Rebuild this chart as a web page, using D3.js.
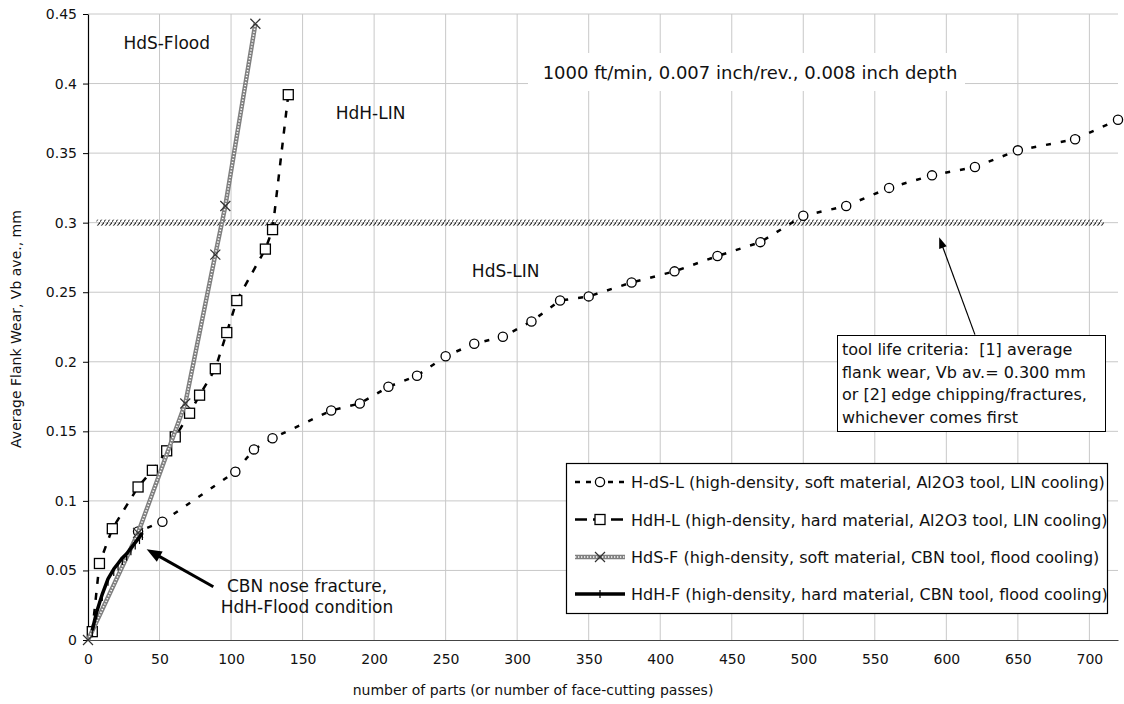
<!DOCTYPE html>
<html>
<head>
<meta charset="utf-8">
<script src="https://cdn.jsdelivr.net/npm/d3@7"></script>
<style>
  body { margin: 0; background: #fff; }
  svg text { font-family: 'DejaVu Sans', sans-serif; fill: #111; }
</style>
</head>
<body>
<svg id="chart"></svg>
<script>
// H-dS-L : high-density, soft material, Al2O3 tool, LIN cooling
const hdslParts = [3, 35, 52, 103, 116, 129, 170, 190, 210, 230, 250, 270, 290, 310, 330, 350, 380, 410, 440, 470, 500, 530, 560, 590, 620, 650, 690, 720];
const hdslWear = [0.006, 0.078, 0.085, 0.121, 0.137, 0.145, 0.165, 0.170, 0.182, 0.190, 0.204, 0.213, 0.218, 0.229, 0.244, 0.247, 0.257, 0.265, 0.276, 0.286, 0.305, 0.312, 0.325, 0.334, 0.340, 0.352, 0.360, 0.374];

// HdH-L : high-density, hard material, Al2O3 tool, LIN cooling
const hdhlParts = [3, 8, 17, 35, 45, 55, 61, 71, 78, 89, 97, 104, 124, 129, 140];
const hdhlWear = [0.006, 0.055, 0.080, 0.110, 0.122, 0.136, 0.146, 0.163, 0.176, 0.195, 0.221, 0.244, 0.281, 0.295, 0.392];

// HdS-F : high-density, soft material, CBN tool, flood cooling
const hdsfParts = [0, 35, 68, 89, 96, 117];
const hdsfWear = [0, 0.077, 0.170, 0.277, 0.312, 0.443];

// HdH-F : high-density, hard material, CBN tool, flood cooling (nose fracture)
const hdhfParts = [3, 6, 10, 14, 18, 21, 24, 27, 30, 33, 36, 38];
const hdhfWear = [0.007, 0.020, 0.033, 0.044, 0.051, 0.055, 0.059, 0.062, 0.066, 0.070, 0.074, 0.077];

// tool life criterion (Vb av. = 0.300 mm)
const criterionWear = 0.3;
const criterionParts = [6, 710];

// axes
const xTicks = [0, 50, 100, 150, 200, 250, 300, 350, 400, 450, 500, 550, 600, 650, 700];
const yTicks = [0, 0.05, 0.1, 0.15, 0.2, 0.25, 0.3, 0.35, 0.4, 0.45];
const yTickLabels = ['0', '0.05', '0.1', '0.15', '0.2', '0.25', '0.3', '0.35', '0.4', '0.45'];

const legendLabels = [
  'H-dS-L (high-density, soft material, Al2O3 tool, LIN cooling)',
  'HdH-L (high-density, hard material, Al2O3 tool, LIN cooling)',
  'HdS-F (high-density, soft material, CBN tool, flood cooling)',
  'HdH-F (high-density, hard material, CBN tool, flood cooling)'
];

// settings
const config = {
  width: 1124,
  height: 704,
  plot: { left: 88, right: 1118, top: 14, bottom: 640 },
  grid: '#c8c8c8',
  legend: { x: 566, y: 463, width: 541, height: 150, rows: [482, 519.5, 557, 594] },
};

const svg = d3.select('#chart')
  .attr('width', config.width)
  .attr('height', config.height);

svg.append('rect')
  .attr('width', config.width)
  .attr('height', config.height)
  .attr('fill', '#fff');

const x = d3.scaleLinear().domain([0, 720]).range([config.plot.left, config.plot.right]);
const y = d3.scaleLinear().domain([0, 0.45]).range([config.plot.bottom, config.plot.top]);

const defs = svg.append('defs');

// hatch pattern for the criterion band
const hatch = defs.append('pattern')
  .attr('id', 'hatch')
  .attr('patternUnits', 'userSpaceOnUse')
  .attr('width', 4)
  .attr('height', 6);
hatch.append('path')
  .attr('d', 'M-1,7 L5,-1')
  .attr('stroke', '#333')
  .attr('stroke-width', 1.1);

// gridlines
const grid = svg.append('g');
grid.selectAll('.vgrid').data(xTicks.filter(d => d > 0)).enter().append('line')
  .attr('x1', d => x(d)).attr('x2', d => x(d))
  .attr('y1', y(0)).attr('y2', y(0.45))
  .attr('stroke', config.grid).attr('stroke-width', 1);
grid.selectAll('.hgrid').data(yTicks.filter(d => d > 0)).enter().append('line')
  .attr('x1', x(0)).attr('x2', x(720))
  .attr('y1', d => y(d)).attr('y2', d => y(d))
  .attr('stroke', config.grid).attr('stroke-width', 1);

// bottom axis
const xAxis = d3.axisBottom(x)
  .tickValues(xTicks)
  .tickSize(0)
  .tickPadding(14)
  .tickFormat(d3.format('d'));
const gx = svg.append('g')
  .attr('transform', `translate(0, ${y(0)})`)
  .call(xAxis);
gx.select('.domain').attr('stroke', '#444');
gx.selectAll('text').attr('font-size', 14).attr('fill', '#111').attr('font-family', 'DejaVu Sans');

// left axis
const yAxis = d3.axisLeft(y)
  .tickValues(yTicks)
  .tickSize(5)
  .tickSizeOuter(0)
  .tickPadding(6)
  .tickFormat((d, i) => yTickLabels[i]);
const gy = svg.append('g')
  .attr('transform', `translate(${x(0)}, 0)`)
  .call(yAxis);
gy.select('.domain').attr('stroke', '#000').attr('stroke-width', 1.2);
gy.selectAll('line').attr('stroke', '#000');
gy.selectAll('text').attr('font-size', 14).attr('fill', '#111').attr('font-family', 'DejaVu Sans');

// axis titles
svg.append('text')
  .attr('transform', `translate(16, ${(y(0) + y(0.45)) / 2 + 2}) rotate(-90)`)
  .attr('text-anchor', 'middle')
  .attr('dy', '0.35em')
  .attr('font-size', 14)
  .text('Average Flank Wear, Vb ave., mm');

svg.append('text')
  .attr('x', 533)
  .attr('y', 695)
  .attr('text-anchor', 'middle')
  .attr('font-size', 14)
  .text('number of parts (or number of face-cutting passes)');

// header text with white background
const header = svg.append('g');
header.append('rect')
  .attr('x', 528).attr('y', 53).attr('width', 437).attr('height', 38)
  .attr('fill', '#fff');
header.append('text')
  .attr('x', 750).attr('y', 79)
  .attr('text-anchor', 'middle')
  .attr('font-size', 18)
  .text('1000 ft/min, 0.007 inch/rev., 0.008 inch depth');

// criterion band
svg.append('rect')
  .attr('x', x(criterionParts[0]))
  .attr('width', x(criterionParts[1]) - x(criterionParts[0]))
  .attr('y', y(criterionWear) - 3)
  .attr('height', 6)
  .attr('fill', 'url(#hatch)');

const zip = (xs, ys) => xs.map((d, i) => [d, ys[i]]);
const line = d3.line().x(d => x(d[0])).y(d => y(d[1]));

const hdsl = zip(hdslParts, hdslWear);
const hdhl = zip(hdhlParts, hdhlWear);
const hdsf = zip(hdsfParts, hdsfWear);
const hdhf = zip(hdhfParts, hdhfWear);

// line styles, take a path generator so the legend can reuse them
function drawDashed(g, d, dash) {
  g.append('path').attr('d', d)
    .attr('fill', 'none').attr('stroke', '#000')
    .attr('stroke-width', 2.5).attr('stroke-dasharray', dash);
}
function drawRope(g, d) {
  g.append('path').attr('d', d)
    .attr('fill', 'none').attr('stroke', '#808080').attr('stroke-width', 4.5);
  g.append('path').attr('d', d)
    .attr('fill', 'none').attr('stroke', '#fff').attr('stroke-width', 1.6)
    .attr('stroke-dasharray', '1.3,1.7');
}
function drawSolid(g, d) {
  g.append('path').attr('d', d)
    .attr('fill', 'none').attr('stroke', '#000').attr('stroke-width', 3.5)
    .attr('stroke-linejoin', 'round');
}

// marker shapes, drawn at pixel position
function circleMark(g, px, py) {
  g.append('circle').attr('cx', px).attr('cy', py).attr('r', 4.6)
    .attr('fill', '#fff').attr('stroke', '#000').attr('stroke-width', 1.3);
}
function squareMark(g, px, py) {
  g.append('rect').attr('x', px - 5).attr('y', py - 5).attr('width', 10).attr('height', 10)
    .attr('fill', '#fff').attr('stroke', '#000').attr('stroke-width', 1.3);
}
function crossMark(g, px, py) {
  g.append('path').attr('d', `M${px - 5},${py - 5}L${px + 5},${py + 5}M${px - 5},${py + 5}L${px + 5},${py - 5}`)
    .attr('stroke', '#333').attr('stroke-width', 1.2).attr('fill', 'none');
}
function tickMark(g, px, py) {
  g.append('line').attr('x1', px).attr('x2', px).attr('y1', py - 1).attr('y2', py + 7)
    .attr('stroke', '#000').attr('stroke-width', 1.2);
}
function plusMark(g, px, py) {
  g.append('line').attr('x1', px).attr('x2', px).attr('y1', py - 4).attr('y2', py + 4)
    .attr('stroke', '#000').attr('stroke-width', 1.2);
}

const series = [
  { pts: hdsl, draw: (g, d) => drawDashed(g, d, '5,10'), legendDraw: (g, d) => drawDashed(g, d, '5,6'), mark: circleMark, legendMark: circleMark },
  { pts: hdhl, draw: (g, d) => drawDashed(g, d, '7,9'), legendDraw: (g, d) => drawDashed(g, d, '12,6'), mark: squareMark, legendMark: squareMark },
  { pts: hdsf, draw: drawRope, legendDraw: drawRope, mark: crossMark, legendMark: crossMark },
  { pts: hdhf, draw: drawSolid, legendDraw: drawSolid, mark: tickMark, legendMark: plusMark },
];

const plotG = svg.append('g');
series.forEach(s => {
  const g = plotG.append('g');
  s.draw(g, line(s.pts));
  s.pts.forEach(d => s.mark(g, x(d[0]), y(d[1])));
});

// text labels inside plot
const labels = [
  { text: 'HdS-Flood', at: [55, 0.4245] },
  { text: 'HdH-LIN', at: [197.5, 0.3745] },
  { text: 'HdS-LIN', at: [292, 0.261] },
];
labels.forEach(l => {
  svg.append('text')
    .attr('x', x(l.at[0])).attr('y', y(l.at[1]))
    .attr('text-anchor', 'middle')
    .attr('font-size', 17)
    .text(l.text);
});

// arrows
function arrow(from, to, width, headLen, headW) {
  const x1 = x(from[0]), y1 = y(from[1]), x2 = x(to[0]), y2 = y(to[1]);
  const a = Math.atan2(y2 - y1, x2 - x1);
  const bx = x2 - headLen * Math.cos(a), by = y2 - headLen * Math.sin(a);
  const nx = -Math.sin(a) * headW / 2, ny = Math.cos(a) * headW / 2;
  svg.append('line').attr('x1', x1).attr('y1', y1).attr('x2', bx + Math.cos(a) * 2).attr('y2', by + Math.sin(a) * 2)
    .attr('stroke', '#000').attr('stroke-width', width);
  svg.append('path')
    .attr('d', `M${x2},${y2}L${bx + nx},${by + ny}L${bx - nx},${by - ny}Z`)
    .attr('fill', '#000');
}

// CBN nose fracture note
arrow([87.6, 0.0383], [41, 0.0652], 3, 15, 12);
const cbn = svg.append('text')
  .attr('font-size', 17)
  .attr('text-anchor', 'middle');
cbn.append('tspan').attr('x', 307).attr('y', 592).text('CBN nose fracture,');
cbn.append('tspan').attr('x', 307).attr('y', 613).text('HdH-Flood condition');

// tool life criteria note
arrow([620, 0.2195], [595, 0.2895], 1.2, 11, 8);
const note = svg.append('g');
note.append('rect')
  .attr('x', 837.5).attr('y', 335.5).attr('width', 268).attr('height', 96)
  .attr('fill', '#fff').attr('stroke', '#000').attr('stroke-width', 1);
const noteLines = ['tool life criteria:  [1] average', 'flank wear, Vb av.= 0.300 mm', 'or [2] edge chipping/fractures,', 'whichever comes first'];
noteLines.forEach((t, i) => {
  note.append('text')
    .attr('x', 842).attr('y', 355 + i * 22.5)
    .attr('font-size', 16)
    .style('white-space', 'pre')
    .text(t);
});

// legend
const lg = config.legend;
const legend = svg.append('g');
legend.append('rect')
  .attr('x', lg.x + 0.5).attr('y', lg.y + 0.5).attr('width', lg.width).attr('height', lg.height)
  .attr('fill', '#fff').attr('stroke', '#000').attr('stroke-width', 1.2);
series.forEach((s, i) => {
  const g = legend.append('g');
  const ly = lg.rows[i];
  s.legendDraw(g, d3.line()([[lg.x + 9, ly], [lg.x + 59, ly]]));
  s.legendMark(g, lg.x + 34, ly);
  g.append('text')
    .attr('x', lg.x + 65).attr('y', ly + 6)
    .attr('font-size', 16)
    .text(legendLabels[i]);
});
</script>
</body>
</html>
